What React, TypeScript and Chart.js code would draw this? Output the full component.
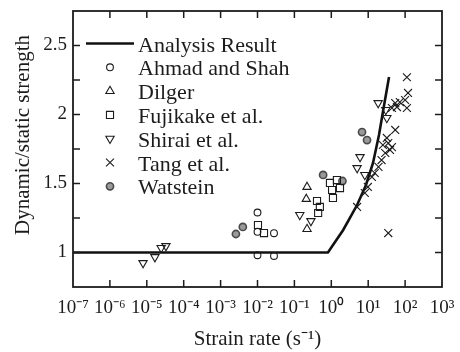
import React, { useEffect, useRef } from 'react';
import { Chart, registerables } from 'chart.js';

Chart.register(...registerables);

// ---------- data ----------
const xTickValues = [1e-7, 1e-6, 1e-5, 1e-4, 1e-3, 1e-2, 1e-1, 1e0, 1e1, 1e2, 1e3];
const xTickLabels = ['10⁻⁷', '10⁻⁶', '10⁻⁵', '10⁻⁴', '10⁻³', '10⁻²', '10⁻¹', '10⁰', '10¹', '10²', '10³'];
const yTickValues = [1, 1.25, 1.5, 1.75, 2, 2.25, 2.5];
const yTickLabels = ['1', '', '1.5', '', '2', '', '2.5'];

const analysisX = [1e-7, 0.81, 2.1, 5.0, 8.7, 13.5, 19.6, 27, 36.7];
const analysisY = [1.0, 1.0, 1.163, 1.344, 1.489, 1.649, 1.851, 2.069, 2.272];

const ahmadX = [0.01, 0.01, 0.028, 0.01, 0.028];
const ahmadY = [1.29, 1.15, 1.14, 0.98, 0.975];

const dilgerX = [0.22, 0.21, 0.22];
const dilgerY = [1.475, 1.388, 1.17];

const fujikakeX = [0.0103, 0.015, 0.41, 0.49, 0.44, 0.92, 1.42, 1.05, 1.72, 1.11];
const fujikakeY = [1.199, 1.141, 1.373, 1.33, 1.286, 1.504, 1.525, 1.453, 1.467, 1.395];

const shiraiX = [7.9e-6, 1.66e-5, 2.45e-5, 3.3e-5, 0.14, 0.28, 6.0, 5.0, 8.1, 18.6, 30, 32];
const shiraiY = [0.924, 0.967, 1.033, 1.047, 1.272, 1.228, 1.692, 1.612, 1.562, 2.083, 2.033, 1.975];

const tangX = [112, 120, 100, 72, 54, 112, 60, 44, 54, 32, 35, 25, 44, 39, 29, 23, 19, 15, 12.6, 9.8, 8.1, 5.0, 35];
const tangY = [2.27, 2.156, 2.105, 2.09, 2.083, 2.047, 2.054, 2.047, 1.888, 1.83, 1.793, 1.779, 1.764, 1.743, 1.721, 1.67, 1.62, 1.576, 1.547, 1.475, 1.431, 1.33, 1.141];

const watsteinX = [0.0026, 0.004, 0.6, 2.0, 6.8, 9.3];
const watsteinY = [1.134, 1.185, 1.562, 1.518, 1.873, 1.815];

const seriesNames = ['Analysis Result', 'Ahmad and Shah', 'Dilger', 'Fujikake et al.', 'Shirai et al.', 'Tang et al.', 'Watstein'];

// ---------- style ----------
const serif = "'Liberation Serif', 'Times New Roman', serif";
const ink = '#1c1c1c';

const pts = (xs: number[], ys: number[]) => xs.map((x, i) => ({ x, y: ys[i] }));

function drawMarker(ctx: CanvasRenderingContext2D, ds: any, x: number, y: number) {
  const style = ds.pointStyle;
  const r = ds.pointRadius;
  const rot = ((ds.rotation || 0) * Math.PI) / 180;
  ctx.save();
  ctx.lineWidth = ds.borderWidth ?? 1;
  ctx.strokeStyle = ds.borderColor;
  ctx.fillStyle = ds.backgroundColor;
  ctx.beginPath();
  if (style === 'circle') {
    ctx.arc(x, y, r, 0, Math.PI * 2);
    ctx.fill();
    ctx.stroke();
  } else if (style === 'triangle') {
    let a = rot;
    ctx.moveTo(x + Math.sin(a) * r, y - Math.cos(a) * r);
    a += (2 * Math.PI) / 3;
    ctx.lineTo(x + Math.sin(a) * r, y - Math.cos(a) * r);
    a += (2 * Math.PI) / 3;
    ctx.lineTo(x + Math.sin(a) * r, y - Math.cos(a) * r);
    ctx.closePath();
    ctx.fill();
    ctx.stroke();
  } else if (style === 'rect') {
    const s = Math.SQRT1_2 * r;
    ctx.rect(x - s, y - s, 2 * s, 2 * s);
    ctx.fill();
    ctx.stroke();
  } else if (style === 'crossRot') {
    const s = Math.SQRT1_2 * r;
    ctx.moveTo(x - s, y - s);
    ctx.lineTo(x + s, y + s);
    ctx.moveTo(x - s, y + s);
    ctx.lineTo(x + s, y - s);
    ctx.stroke();
  }
  ctx.restore();
}

const framePlugin = {
  id: 'frameAndLegend',
  afterDraw(chart: any) {
    const { ctx, chartArea: a, scales } = chart;
    const xs = scales.x;
    const ys = scales.y;
    ctx.save();
    // frame
    ctx.strokeStyle = ink;
    ctx.lineWidth = 1.8;
    ctx.strokeRect(a.left, a.top, a.right - a.left, a.bottom - a.top);
    // inward ticks on all four sides
    const len = 7;
    ctx.lineWidth = 1.5;
    ctx.beginPath();
    xs.ticks.forEach((t: any) => {
      const px = xs.getPixelForValue(t.value);
      if (px <= a.left + 1 || px >= a.right - 1) return;
      ctx.moveTo(px, a.bottom);
      ctx.lineTo(px, a.bottom - len);
      ctx.moveTo(px, a.top);
      ctx.lineTo(px, a.top + len);
    });
    ys.ticks.forEach((t: any) => {
      const py = ys.getPixelForValue(t.value);
      if (py <= a.top + 1 || py >= a.bottom - 1) return;
      ctx.moveTo(a.left, py);
      ctx.lineTo(a.left + len, py);
      ctx.moveTo(a.right, py);
      ctx.lineTo(a.right - len, py);
    });
    ctx.stroke();

    // y title
    ctx.save();
    ctx.fillStyle = ink;
    ctx.font = `21px ${serif}`;
    ctx.textAlign = 'center';
    ctx.textBaseline = 'middle';
    ctx.translate(a.left - 50, (a.top + a.bottom) / 2 - 14);
    ctx.rotate(-Math.PI / 2);
    ctx.fillText('Dynamic/static strength', 0, 0);
    ctx.restore();

    // legend
    const rowH = 23.8;
    const y0 = a.top + 32.5;
    ctx.font = `22px ${serif}`;
    ctx.fillStyle = ink;
    ctx.textAlign = 'left';
    ctx.textBaseline = 'alphabetic';
    chart.data.datasets.forEach((ds: any, i: number) => {
      const cy = y0 + i * rowH;
      if (ds.showLine) {
        ctx.save();
        ctx.strokeStyle = ds.borderColor;
        ctx.lineWidth = ds.borderWidth;
        ctx.beginPath();
        ctx.moveTo(a.left + 13, cy);
        ctx.lineTo(a.left + 61, cy);
        ctx.stroke();
        ctx.restore();
      } else {
        drawMarker(ctx, ds, a.left + 37, cy);
      }
      ctx.fillStyle = ink;
      ctx.fillText(ds.label, a.left + 65, cy + 8);
    });
    ctx.restore();
  },
};

export default function App() {
  const ref = useRef<HTMLCanvasElement>(null);

  useEffect(() => {
    if (!ref.current) return;
    const markerBase = { showLine: false, borderColor: ink, borderWidth: 1.1 };
    const chart = new Chart(ref.current, {
      type: 'scatter',
      data: {
        datasets: [
          {
            label: seriesNames[0],
            data: pts(analysisX, analysisY),
            showLine: true,
            borderColor: '#111',
            borderWidth: 2.6,
            pointRadius: 0,
            tension: 0,
            order: 10,
          } as any,
          { ...markerBase, label: seriesNames[1], data: pts(ahmadX, ahmadY), pointStyle: 'circle', pointRadius: 3.4, backgroundColor: 'rgba(255,255,255,0)' },
          { ...markerBase, label: seriesNames[2], data: pts(dilgerX, dilgerY), pointStyle: 'triangle', pointRadius: 4.8, backgroundColor: 'rgba(255,255,255,0)' },
          { ...markerBase, label: seriesNames[3], data: pts(fujikakeX, fujikakeY), pointStyle: 'rect', pointRadius: 5, backgroundColor: 'rgba(255,255,255,0)' },
          { ...markerBase, label: seriesNames[4], data: pts(shiraiX, shiraiY), pointStyle: 'triangle', rotation: 180, pointRotation: 180, pointRadius: 4.8, backgroundColor: 'rgba(255,255,255,0)' },
          { ...markerBase, label: seriesNames[5], data: pts(tangX, tangY), pointStyle: 'crossRot', pointRadius: 5.6, backgroundColor: 'rgba(255,255,255,0)' },
          { ...markerBase, label: seriesNames[6], data: pts(watsteinX, watsteinY), pointStyle: 'circle', pointRadius: 3.6, borderColor: '#4a4a4a', borderWidth: 1.6, backgroundColor: '#9a9a9a' },
        ],
      },
      options: {
        responsive: false,
        animation: false,
        devicePixelRatio: 1,
        layout: { padding: { top: 11, right: 18, left: 0, bottom: 0 } },
        plugins: { legend: { display: false }, tooltip: { enabled: false } },
        scales: {
          x: {
            type: 'logarithmic',
            min: 1e-7,
            max: 1e3,
            grid: { display: false, drawTicks: false },
            border: { display: false },
            afterBuildTicks: (s: any) => {
              s.ticks = xTickValues.map((v) => ({ value: v }));
            },
            afterFit: (s: any) => {
              s.height = 65;
              s.paddingLeft = 0;
              s.paddingRight = 0;
            },
            ticks: {
              autoSkip: false,
              maxRotation: 0,
              minRotation: 0,
              padding: 10,
              color: ink,
              font: { family: serif, size: 19 },
              callback: (v: any) => {
                const i = xTickValues.findIndex((t) => Math.abs(Math.log10(t) - Math.log10(Number(v))) < 1e-6);
                return i >= 0 ? xTickLabels[i] : '';
              },
            },
            title: {
              display: true,
              text: 'Strain rate (s⁻¹)',
              color: ink,
              font: { family: serif, size: 21 },
              padding: { top: 0, bottom: 0 },
            },
          },
          y: {
            type: 'linear',
            min: 0.75,
            max: 2.75,
            grid: { display: false, drawTicks: false },
            border: { display: false },
            afterBuildTicks: (s: any) => {
              s.ticks = yTickValues.map((v) => ({ value: v }));
            },
            afterFit: (s: any) => {
              s.width = 73;
              s.paddingTop = 0;
              s.paddingBottom = 0;
            },
            ticks: {
              padding: 6,
              color: ink,
              font: { family: serif, size: 19 },
              callback: (v: any) => {
                const i = yTickValues.findIndex((t) => Math.abs(t - Number(v)) < 1e-6);
                return i >= 0 ? yTickLabels[i] : '';
              },
            },
          },
        },
      },
      plugins: [framePlugin],
    } as any);
    return () => chart.destroy();
  }, []);

  return (
    <div style={{ position: 'fixed', left: 0, top: 0, width: 460, height: 352, background: '#fff' }}>
      <canvas ref={ref} width={460} height={352} style={{ display: 'block' }} />
    </div>
  );
}
